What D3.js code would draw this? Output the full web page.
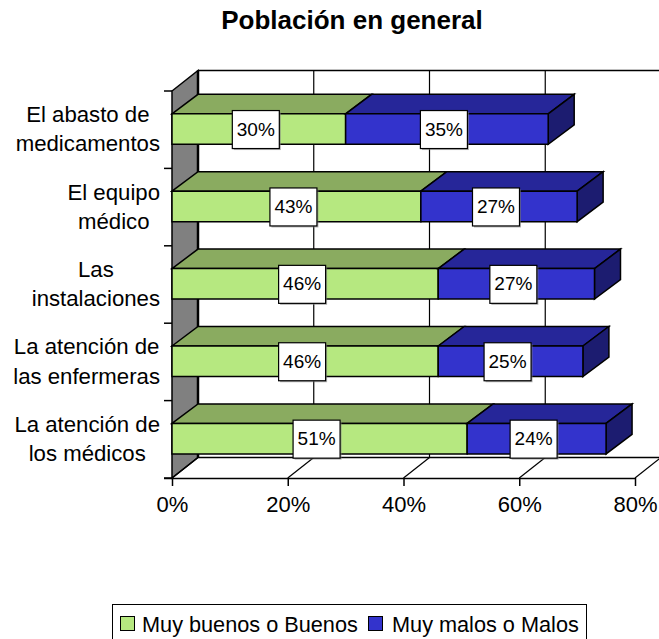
<!DOCTYPE html>
<html><head><meta charset="utf-8">
<script src="https://cdn.jsdelivr.net/npm/d3@7"></script>
<style>html,body{margin:0;padding:0;background:#fff}svg{display:block;font-family:"Liberation Sans",Arial,sans-serif;fill:#000}</style>
</head><body><svg id="c" width="659" height="639"></svg>
<script>
const title = "Población en general";
const categories = [["El abasto de","medicamentos"],["El equipo","médico"],["Las","instalaciones"],["La atención de","las enfermeras"],["La atención de","los médicos"]];
const good = [30,43,46,46,51];
const bad = [35,27,27,25,24];
const xTicks = [0,20,40,60,80];
const seriesNames = ["Muy buenos o Buenos","Muy malos o Malos"];
const colors = {front:["#B6E880","#3333CC"],top:["#8AAB60","#262699"],side:["#66804A","#1C1C70"]};

(function(){
const svg = d3.select("#c");
const DX = 26, DY = 20.5;
const x = d3.scaleLinear().domain([0,80]).range([172,635]);
const y = d3.scaleBand().domain(d3.range(categories.length)).range([91,478]).paddingInner(0).paddingOuter(0);
const barH = 30.5, barOff = 22.8;

svg.append("text").attr("x",352).attr("y",29).attr("text-anchor","middle").attr("font-weight","bold").attr("font-size",26).text(title);

// walls
const yTop = 91, yBot = 478;
svg.append("polygon").attr("points",[[x(0),yTop],[x(0)+DX,yTop-DY],[x(0)+DX,yBot-DY],[x(0),yBot]].join(" ")).attr("fill","#808080").attr("stroke","#000").attr("stroke-width",1.5);
svg.append("line").attr("x1",x(0)+DX).attr("x2",659).attr("y1",yTop-DY).attr("y2",yTop-DY).attr("stroke","#000").attr("stroke-width",1.5);
svg.append("line").attr("x1",x(0)+DX).attr("x2",x(0)+DX).attr("y1",yTop-DY).attr("y2",yBot-DY).attr("stroke","#000").attr("stroke-width",2.5);
svg.append("polyline").attr("points",[[x(0),yBot],[x(0)+DX,yBot-DY],[659,yBot-DY]].join(" ")).attr("fill","none").attr("stroke","#000").attr("stroke-width",1.5);
xTicks.slice(1).forEach(t=>{
  if (t<80) svg.append("line").attr("x1",x(t)+DX).attr("x2",x(t)+DX).attr("y1",yTop-DY).attr("y2",yBot-DY).attr("stroke","#000").attr("stroke-width",1.2);
  svg.append("line").attr("x1",x(t)).attr("x2",x(t)+DX).attr("y1",yBot).attr("y2",yBot-DY).attr("stroke","#000").attr("stroke-width",1.2);
});

// axes
const xAxis = d3.axisBottom(x).tickValues(xTicks).tickFormat(d=>d+"%").tickSize(8).tickSizeOuter(0);
const gx = svg.append("g").attr("transform",`translate(0,${yBot})`).call(xAxis);
gx.selectAll("path,line").attr("stroke","#000").attr("stroke-width",1.5);
gx.selectAll("text").attr("font-size",22).attr("font-family","inherit").attr("fill","#000").attr("y",34).attr("dy",0);
gx.select("path").attr("d",`M164,0.5H635`);

const step = y.step();
const gy = svg.append("g");
d3.range(categories.length+1).forEach(i=>{
  gy.append("line").attr("x1",x(0)-8).attr("x2",x(0)).attr("y1",yTop+i*step).attr("y2",yTop+i*step).attr("stroke","#000").attr("stroke-width",1.5);
});
categories.forEach((lines,i)=>{
  const t = svg.append("text").attr("font-size",22.2).attr("text-anchor","middle");
  const ts = lines.map((l,k)=>t.append("tspan").attr("y",y(i)+step/2+ (k===0?-7.6:21.7)).text(l));
  const w = Math.max(...ts.map(s=>s.node().getComputedTextLength()));
  ts.forEach(s=>s.attr("x",160-w/2));
});

// bars
const stroke = {stroke:"#000","stroke-width":1.5,"stroke-linejoin":"miter"};
function poly(pts,fill){
  const p = svg.append("polygon").attr("points",pts.join(" ")).attr("fill",fill);
  Object.entries(stroke).forEach(([k,v])=>p.attr(k,v));
}
categories.forEach((_,i)=>{
  const y0 = y(i)+barOff, y1 = y0+barH;
  const segs = [[0,good[i],0],[good[i],good[i]+bad[i],1]];
  segs.forEach(([a,b,s])=>{
    const xa=x(a), xb=x(b);
    poly([[xa,y0],[xa+DX,y0-DY+1],[xb+DX,y0-DY+1],[xb,y0]],colors.top[s]);
    if (s===1) poly([[xb,y0],[xb+DX,y0-DY+1],[xb+DX,y1-DY+1],[xb,y1]],colors.side[s]);
    poly([[xa,y0],[xb,y0],[xb,y1],[xa,y1]],colors.front[s]);
  });
});
// value labels
function label(cx,cy,txt){
  const W=47,H=38;
  svg.append("rect").attr("x",cx-W/2+1.5).attr("y",cy-H/2+1.5).attr("width",W).attr("height",H).attr("fill","#808080").attr("opacity",0.6);
  svg.append("rect").attr("x",cx-W/2).attr("y",cy-H/2).attr("width",W).attr("height",H).attr("fill","#fff").attr("stroke","#000").attr("stroke-width",1.2);
  svg.append("text").attr("x",cx).attr("y",cy+6).attr("text-anchor","middle").attr("font-size",19).text(txt);
}
categories.forEach((_,i)=>{
  const cy = y(i)+barOff+barH/2+0.5;
  label(x(good[i]/2)-3,cy,good[i]+"%");
  label(x(good[i]+bad[i]/2)-3,cy,bad[i]+"%");
});

// legend
svg.append("rect").attr("x",112.5).attr("y",604.5).attr("width",474).attr("height",40).attr("fill","#fff").attr("stroke","#000").attr("stroke-width",1);
const lx=[120,368];
const tx=[142,392];
seriesNames.forEach((n,i)=>{
  svg.append("rect").attr("x",lx[i]+.5).attr("y",616.5).attr("width",14).attr("height",14).attr("fill",colors.front[i]).attr("stroke","#000").attr("stroke-width",1);
  svg.append("text").attr("x",tx[i]).attr("y",632).attr("font-size",21.7).text(n);
});
})();
</script></body></html>
